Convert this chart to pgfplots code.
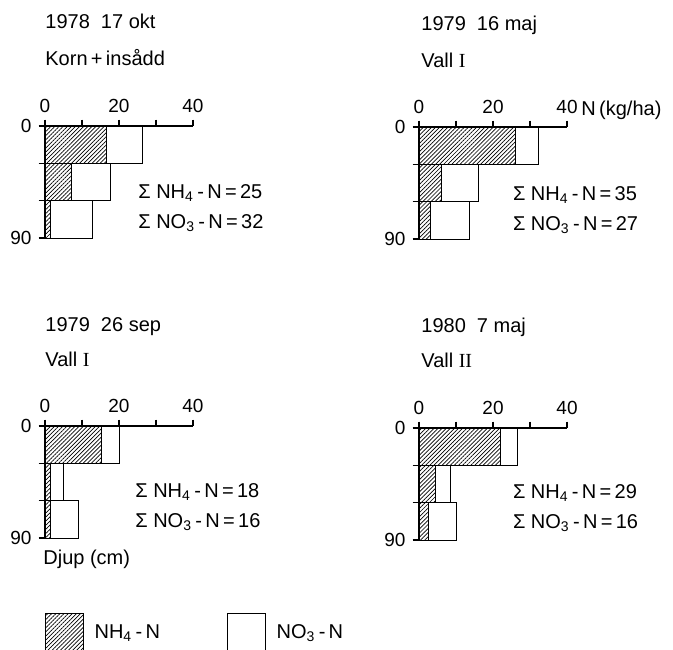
\documentclass[border=0pt]{standalone}
\usepackage{fontspec}
\setmainfont{Liberation Sans}
\newfontfamily\romnum{Liberation Serif}
\usepackage{pgfplots}
\pgfplotsset{compat=1.18}
\usepackage{pgfplotstable}
\usetikzlibrary{patterns.meta}

% Soil profile N content per layer (depth centre in cm, kg/ha)
\pgfplotstableread{
depth nh4 no3
-15   16.5 9.9
-45   7.1  10.6
-75   1.4  11.5
}\okt
\pgfplotstableread{
depth nh4 no3
-15   26.0 6.3
-45   6.0  10.0
-75   3.0  10.7
}\majA
\pgfplotstableread{
depth nh4 no3
-15   15.2 4.8
-45   1.4  3.5
-75   1.4  7.7
}\sep
\pgfplotstableread{
depth nh4 no3
-15   22.0 4.5
-45   4.5  4.0
-75   2.5  7.5
}\majB

\tikzset{
  hatch/.style={draw=black, line width=0.5pt,
    pattern={Lines[angle=45,distance=1.45pt,line width=0.35pt]}, pattern color=black},
  plain/.style={draw=black, line width=0.5pt, fill=white},
  lbl/.style={anchor=base west, inner sep=0pt, font=\fontsize{10}{12}\selectfont},
}

\pgfplotsset{
  panel/.style={
    scale only axis, width=74pt, height=56pt, anchor=north west,
    xmin=0, xmax=40, ymin=-90, ymax=0, clip=false,
    axis x line=top, axis y line=left,
    axis line style={-, line width=0.7pt},
    xtick={0,10,20,30,40}, xticklabels={0,,20,,40},
    ytick={-90,-60,-30,0}, yticklabels={90,,,0},
    tick align=outside, major tick length=3.2pt,
    tick style={line width=0.7pt, black},
    tick label style={font=\fontsize{9.5}{11}\selectfont},
    /pgf/number format/assume math mode=true,
    xbar stacked, bar width=30, bar shift=0pt,
  },
}

\newcommand{\sumlabels}[4]{%
  \node[lbl] at (#1,#2) {Σ\ NH\textsubscript{4}\,-\,N\,=\,#3};
  \node[lbl] at (#1,#2-15pt) {Σ\ NO\textsubscript{3}\,-\,N\,=\,#4};
}

\begin{document}
\begin{tikzpicture}
\useasboundingbox (0,0) rectangle (336.5pt,-324.5pt);

% 1978 17 okt
\begin{axis}[panel, at={(22.5pt,-63pt)}]
  \addplot[hatch] table[x=nh4, y=depth] {\okt};
  \addplot[plain] table[x=no3, y=depth] {\okt};
\end{axis}
\node[lbl] at (22.5pt,-14pt) {1978\ \ 17 okt};
\node[lbl] at (22.5pt,-32.5pt) {Korn\,+\,insådd};
\sumlabels{69pt}{-99pt}{25}{32}

% 1979 16 maj
\begin{axis}[panel, at={(209.5pt,-63.5pt)}]
  \addplot[hatch] table[x=nh4, y=depth] {\majA};
  \addplot[plain] table[x=no3, y=depth] {\majA};
\end{axis}
\node[lbl] at (210.5pt,-15pt) {1979\ \ 16 maj};
\node[lbl] at (210.5pt,-33.5pt) {Vall {\romnum I}};
\node[lbl] at (290.5pt,-57.5pt) {N\,(kg/ha)};
\sumlabels{256.3pt}{-100pt}{35}{27}

% 1979 26 sep
\begin{axis}[panel, at={(22.5pt,-213pt)},
    legend style={at={(0,-0.848)}, anchor=west, inner sep=0pt, outer sep=0pt,
      draw=none, fill=none, legend columns=2,
      font=\fontsize{10}{12}\selectfont,
      /tikz/every odd column/.append style={column sep=3.5pt},
      /tikz/every even column/.append style={column sep=31.5pt},
      /tikz/column 3/.append style={column sep=7pt}},
    legend cell align=left,
    legend image code/.code={\draw[#1] (0pt,-10pt) rectangle (18.8pt,10pt);}]
  \addlegendimage{hatch}
  \addlegendimage{plain}
  \addplot[hatch, forget plot] table[x=nh4, y=depth] {\sep};
  \addplot[plain, forget plot] table[x=no3, y=depth] {\sep};
  \legend{NH\textsubscript{4}\,-\,N, NO\textsubscript{3}\,-\,N}
\end{axis}
\node[lbl] at (22.5pt,-165.5pt) {1979\ \ 26 sep};
\node[lbl] at (22.5pt,-183pt) {Vall {\romnum I}};
\node[lbl] at (21.5pt,-282pt) {Djup (cm)};
\sumlabels{67.5pt}{-248.7pt}{18}{16}

% 1980 7 maj
\begin{axis}[panel, at={(209.5pt,-214pt)}]
  \addplot[hatch] table[x=nh4, y=depth] {\majB};
  \addplot[plain] table[x=no3, y=depth] {\majB};
\end{axis}
\node[lbl] at (210.5pt,-166pt) {1980\ \ 7 maj};
\node[lbl] at (210.5pt,-183.5pt) {Vall {\romnum II}};
\sumlabels{256.3pt}{-249pt}{29}{16}
\end{tikzpicture}
\end{document}
